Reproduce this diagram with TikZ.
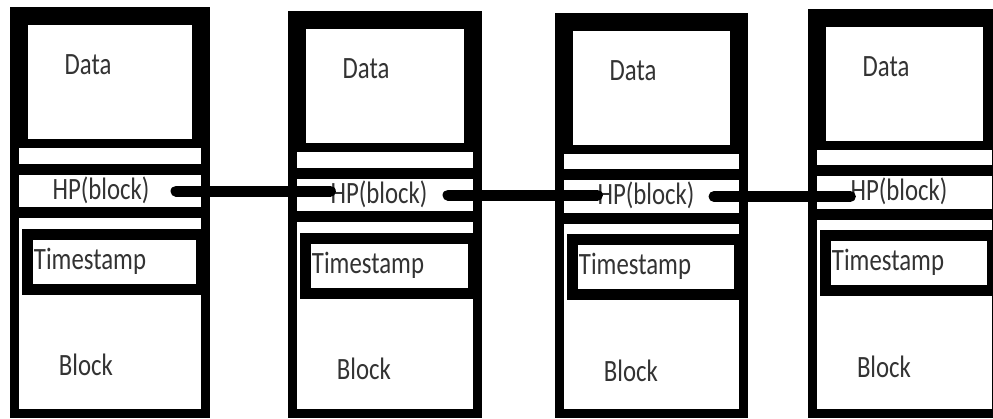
\documentclass[tikz,border=0pt]{standalone}
\usepackage{fontspec}
\setmainfont{Carlito}[FakeStretch=0.8]
\usetikzlibrary{positioning}

\begin{document}
\begin{tikzpicture}[
x=1pt, y=-1pt,
every node/.style={inner sep=0pt, text=black!80, font=\fontsize{31}{36}\selectfont},
frame/.style={draw=black, line width=9pt},
row/.style={draw=black, line width=11pt},
link/.style={draw=black, line width=11pt, line cap=round}
]
  \useasboundingbox (0,0) rectangle (993,418);
  \foreach \i/\L/\R/\dy in {1/10/210/0, 2/288/482/4, 3/555/748/5.5, 4/808/1001/1.5} {
    \draw[frame] (\L+4.5,\dy+11.5) rectangle (\R-4.5,413.5);
    \draw[frame] (\L+13.5,\dy+20.5) rectangle (\R-13.5,\dy+143.5);
    \draw[row] (\L+4.5,\dy+169) -- (\R-4.5,\dy+169)
               (\L+4.5,\dy+212.5) -- (\R-4.5,\dy+212.5);
    \draw[row] (\L+17,\dy+234) rectangle (\R-9,\dy+289);
    \node (data-\i) at (\L+78,\dy+65) {Data};
    \node (hp-\i) at (\L+91,\dy+190) {HP(block)};
    \node (ts-\i) at (\L+80,\dy+261) {Timestamp};
    \node (blk-\i) at (\L+76,\dy+365) {Block};
    \coordinate (dot-\i) at (\R-34,\dy+191);
  }
  \foreach \i/\j in {1/2, 2/3, 3/4}
    \draw[link] (dot-\i) -- (dot-\i -| hp-\j.west);
\end{tikzpicture}
\end{document}
